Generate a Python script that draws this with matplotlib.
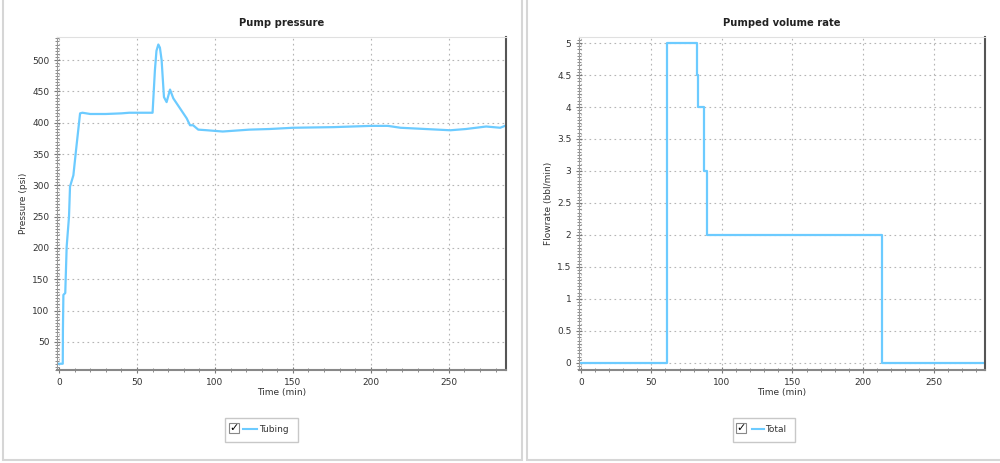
import numpy as np
import matplotlib
matplotlib.use("Agg")
import matplotlib.pyplot as plt
from matplotlib.ticker import MultipleLocator
from matplotlib.patches import Rectangle
from matplotlib.lines import Line2D

# Pump pressure (Tubing)
p_time = [0, 2.4, 2.5, 2.8, 4, 4.9, 6.4, 7.05, 9.2, 10.9, 13.5, 15, 20, 30, 40, 45,
          55, 60, 61.5, 62.5, 63.7, 64.7, 65.8, 67.3, 69, 71.2, 73.3, 77.6, 81.9, 84,
          86, 89.3, 95, 105, 122, 135, 150, 176, 200, 211, 219, 235, 251, 261, 274,
          283, 286]
p_val = [15, 15, 69, 125, 128, 202, 250, 298, 316, 356, 415, 416, 414, 414,
         415, 416, 416, 416, 484, 515, 525, 520, 500, 441, 433, 453, 439, 423, 407, 396,
         396, 389, 388, 386, 389, 390, 392, 393, 395, 395, 392, 390, 388, 390, 394,
         392, 395]

# Pumped volume rate (Total), step function
q_time = [0, 61, 82.6, 83.2, 87, 89.7, 213.7, 286.5]
q_val = [0, 5, 4.5, 4, 3, 2, 0, 0]

W, H = 1000, 463
line_color = "#6ccbff"
plt.rcParams['font.family'] = ['DejaVu Sans']

fig = plt.figure(figsize=(W / 100, H / 100), dpi=100)
fig.patch.set_facecolor("white")


def fx(x):
    return x / W


def fy(y):
    return 1 - y / H


# panel frames
for x0, x1 in [(3, 522), (527, 1003)]:
    fig.patches.append(Rectangle((fx(x0), fy(460)), fx(x1 - x0), (460 + 5) / H,
                                 transform=fig.transFigure, facecolor="white",
                                 edgecolor="#d6d6d6", lw=1.5, zorder=-1))


def style_axes(ax, title, ylabel):
    ax.set_title(title, fontsize=7.2, fontweight="bold", color="#222222", pad=8)
    ax.set_xlabel("Time (min)", fontsize=6.5, color="#333333", labelpad=1)
    ax.set_ylabel(ylabel, fontsize=6.5, color="#333333", labelpad=3)
    ax.xaxis.set_major_locator(MultipleLocator(50))
    ax.xaxis.set_minor_locator(MultipleLocator(10))
    ax.tick_params(which="both", direction="inout", colors="#777777", labelcolor="#333333",
                   labelsize=6.5)
    ax.tick_params(which="major", length=5, width=0.8, pad=3)
    ax.tick_params(which="minor", length=3, width=0.6)
    ax.grid(True, which="major", linestyle=(0, (1.5, 3)), color="#b5b5b5", lw=0.8)
    ax.spines["left"].set_color("#999999")
    ax.spines["bottom"].set_color("#888888")
    ax.spines["bottom"].set_linewidth(1.5)
    ax.spines["right"].set_color("#555555")
    ax.spines["right"].set_linewidth(1.5)
    ax.spines["top"].set_color("#e0e0e0")
    ax.set_xlim(-1.3, 286.5)


ax1 = fig.add_axes([fx(57), fy(370), fx(505.7 - 57), (370 - 37) / H])
ax1.plot(p_time, p_val, color=line_color, lw=1.6)
style_axes(ax1, "Pump pressure", "Pressure (psi)")
ax1.yaxis.set_major_locator(MultipleLocator(50))
ax1.yaxis.set_minor_locator(MultipleLocator(5))
ax1.set_ylim(5, 537)
ax1.set_yticks(np.arange(50, 501, 50))

ax2 = fig.add_axes([fx(579), fy(370), fx(985 - 579), (370 - 37) / H])
ax2.step(q_time, q_val, where="post", color=line_color, lw=1.6)
style_axes(ax2, "Pumped volume rate", "Flowrate (bbl/min)")
ax2.yaxis.set_major_locator(MultipleLocator(0.5))
ax2.yaxis.set_minor_locator(MultipleLocator(0.05))
ax2.set_ylim(-0.11, 5.094)
ax2.set_yticks(np.arange(0, 5.01, 0.5))
ax2.set_yticklabels(["0", "0.5", "1", "1.5", "2", "2.5", "3", "3.5", "4", "4.5", "5"])


# legend boxes with checkbox
def legend_box(x0, x1, box_x, line_x0, line_x1, text_x, label):
    fig.patches.append(Rectangle((fx(x0), fy(442)), fx(x1 - x0), 24 / H,
                                 transform=fig.transFigure, facecolor="white",
                                 edgecolor="#c8c8c8", lw=1.0, zorder=2))
    fig.patches.append(Rectangle((fx(box_x), fy(433)), fx(10), 10 / H,
                                 transform=fig.transFigure, facecolor="white",
                                 edgecolor="#888888", lw=0.8, zorder=3))
    fig.text(fx(box_x + 5.5), fy(428.5), "\u2713", fontsize=8, fontweight="bold",
             ha="center", va="center", color="black", zorder=4)
    fig.lines.append(Line2D([fx(line_x0), fx(line_x1)], [fy(429), fy(429)],
                            transform=fig.transFigure, color=line_color, lw=1.5, zorder=3))
    fig.text(fx(text_x), fy(429), label, fontsize=6.5, ha="left", va="center",
             color="#333333", zorder=4)


legend_box(225, 298, 229, 243, 257, 259.5, "Tubing")
legend_box(733, 795, 736, 751.5, 763.5, 765.5, "Total")

fig.savefig("out.png", dpi=100, facecolor=fig.get_facecolor())
